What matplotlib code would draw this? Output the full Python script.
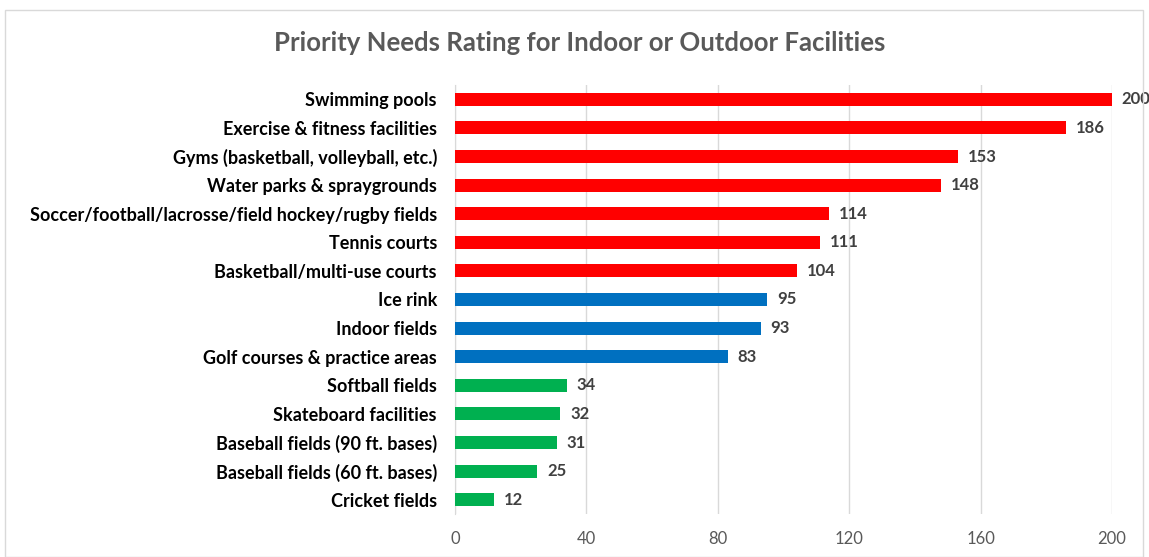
import matplotlib
matplotlib.use("Agg")
import matplotlib.pyplot as plt
from matplotlib.patches import Rectangle

categories = ["Swimming pools", "Exercise & fitness facilities",
              "Gyms (basketball, volleyball, etc.)", "Water parks & spraygrounds",
              "Soccer/football/lacrosse/field hockey/rugby fields", "Tennis courts",
              "Basketball/multi-use courts", "Ice rink", "Indoor fields",
              "Golf courses & practice areas", "Softball fields",
              "Skateboard facilities", "Baseball fields (90 ft. bases)",
              "Baseball fields (60 ft. bases)", "Cricket fields"]
values = [200, 186, 153, 148, 114, 111, 104, 95, 93, 83, 34, 32, 31, 25, 12]
groups = ["high"] * 7 + ["mid"] * 3 + ["low"] * 5
colors = {"high": "#FF0000", "mid": "#0070C0", "low": "#00B050"}
xticks = [0, 40, 80, 120, 160, 200]

plt.rcParams['font.family'] = ['Lato', 'DejaVu Sans']

fig = plt.figure(figsize=(11.49, 5.57), dpi=100)
fig.patches.append(Rectangle((5 / 1149, 0), 1138 / 1149, 1 - 10 / 557,
                             transform=fig.transFigure, fill=False,
                             edgecolor="#D9D9D9", lw=1))
ax = fig.add_axes([455 / 1149, 1 - 514 / 557, 657 / 1149, 429 / 557])

y = list(range(len(categories)))
ax.barh(y, values, height=0.45, color=[colors[g] for g in groups], zorder=3)
for yi, v in zip(y, values):
    ax.text(v + 3, yi, str(v), va="center", ha="left", fontsize=12,
            fontweight="bold", color="#404040", zorder=4)

ax.set_ylim(len(categories) - 0.5, -0.5)
ax.set_xlim(0, 200)
ax.set_yticks(y)
ax.set_yticklabels(categories, fontsize=13, fontweight="bold", color="black")
ax.set_xticks(xticks)
ax.set_xticklabels([str(t) for t in xticks], fontsize=12, color="#595959")
ax.tick_params(axis="both", length=0)
ax.tick_params(axis="y", pad=13)
ax.tick_params(axis="x", pad=12)
ax.grid(axis="x", color="#D9D9D9", lw=1, zorder=0)
for s in ["top", "right", "bottom"]:
    ax.spines[s].set_visible(False)
ax.spines["left"].set_color("#D9D9D9")

fig.text(0.5 + 5 / 1149, 1 - 43 / 557, "Priority Needs Rating for Indoor or Outdoor Facilities",
         ha="center", va="center", fontsize=18.5, fontweight="bold", color="#595959")

fig.savefig("out.png", dpi=100)
